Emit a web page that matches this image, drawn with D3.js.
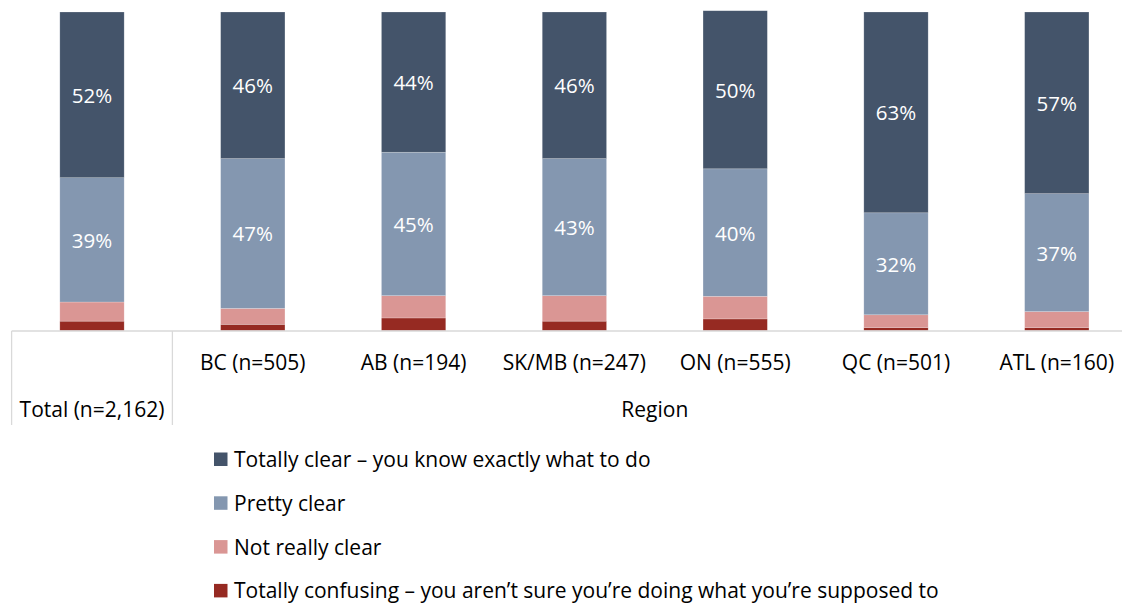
<!DOCTYPE html>
<html><head><meta charset="utf-8">
<script src="https://cdn.jsdelivr.net/npm/d3@7"></script>
<style>body{margin:0;background:#fff}svg{display:block;font-family:"Open Sans",sans-serif}</style>
</head><body><svg id="c" width="1122" height="605"></svg>
<script>
const categories = ["Total (n=2,162)","BC (n=505)","AB (n=194)","SK/MB (n=247)","ON (n=555)","QC (n=501)","ATL (n=160)"];
const seriesNames = ["Totally clear – you know exactly what to do","Pretty clear","Not really clear","Totally confusing – you aren’t sure you’re doing what you’re supposed to"];
const totallyClear = [52,46,44,46,49.6,63,57];
const prettyClear = [39,47,45,43,40,32,37];
const notReallyClear = [6,5,7,8,7.1,4,5];
const totallyConfusing = [3,2,4,3,3.7,1,1];
const groupLabel = "Region";
const colors = ["#44546A","#8497B0","#DA9694","#962A22"];

const svg = d3.select("#c");
const rows = categories.map((c,i)=>({cat:c, s0:totallyConfusing[i], s1:notReallyClear[i], s2:prettyClear[i], s3:totallyClear[i]}));
const stack = d3.stack().keys(["s0","s1","s2","s3"])(rows);
const keyToSeries = {s0:3,s1:2,s2:1,s3:0};

const x = d3.scaleBand().domain(categories).range([11.6, 11.6+160.8*7]).paddingInner(0.6).paddingOuter(0.3);
const y = d3.scaleLinear().domain([0,100]).range([330.7, 12]);

const g = svg.append("g");
stack.forEach(layer=>{
  const si = keyToSeries[layer.key];
  g.selectAll(null).data(layer).join("rect")
    .attr("x", d=>x(d.data.cat)).attr("width", x.bandwidth())
    .attr("y", d=>y(d[1])).attr("height", d=>y(d[0])-y(d[1]))
    .attr("fill", colors[si]).attr("stroke","rgba(255,255,255,0.35)").attr("stroke-width",0.6);
  if (si<2) {
    g.selectAll(null).data(layer).join("text")
      .attr("x", d=>x(d.data.cat)+x.bandwidth()/2)
      .attr("y", d=>(y(d[0])+y(d[1]))/2)
      .attr("text-anchor","middle").attr("dominant-baseline","central")
      .attr("fill","#fff").attr("font-size",20.5)
      .text(d=>Math.round(d[1]-d[0])+"%");
  }
});

const axisCol = "#D9D9D9";
const step = x.step();
const left = x.range()[0];
svg.append("line").attr("x1",left).attr("x2",1122).attr("y1",331).attr("y2",331).attr("stroke",axisCol).attr("stroke-width",1.3);
[left, left+step].forEach(xx=>{
  svg.append("line").attr("x1",xx).attr("x2",xx).attr("y1",331).attr("y2",425).attr("stroke",axisCol).attr("stroke-width",1.3);
});
categories.forEach((c,i)=>{
  svg.append("text").attr("x", x(c)+x.bandwidth()/2).attr("y", i===0?409:362)
    .attr("text-anchor","middle").attr("dominant-baseline","central")
    .attr("font-size",21).attr("fill","#000").text(c);
});
svg.append("text").attr("x",(left+step+x.range()[1])/2).attr("y",409)
  .attr("text-anchor","middle").attr("dominant-baseline","central")
  .attr("font-size",21).attr("fill","#000").text(groupLabel);

const lg = svg.append("g");
seriesNames.forEach((n,i)=>{
  const yy = 459 + i*43.8;
  lg.append("rect").attr("x",214).attr("y",yy-6.5).attr("width",13.5).attr("height",13.5).attr("fill",colors[i]);
  lg.append("text").attr("x",234).attr("y",yy).attr("dominant-baseline","central")
    .attr("font-size",21).attr("fill","#000").text(n);
});
</script></body></html>
